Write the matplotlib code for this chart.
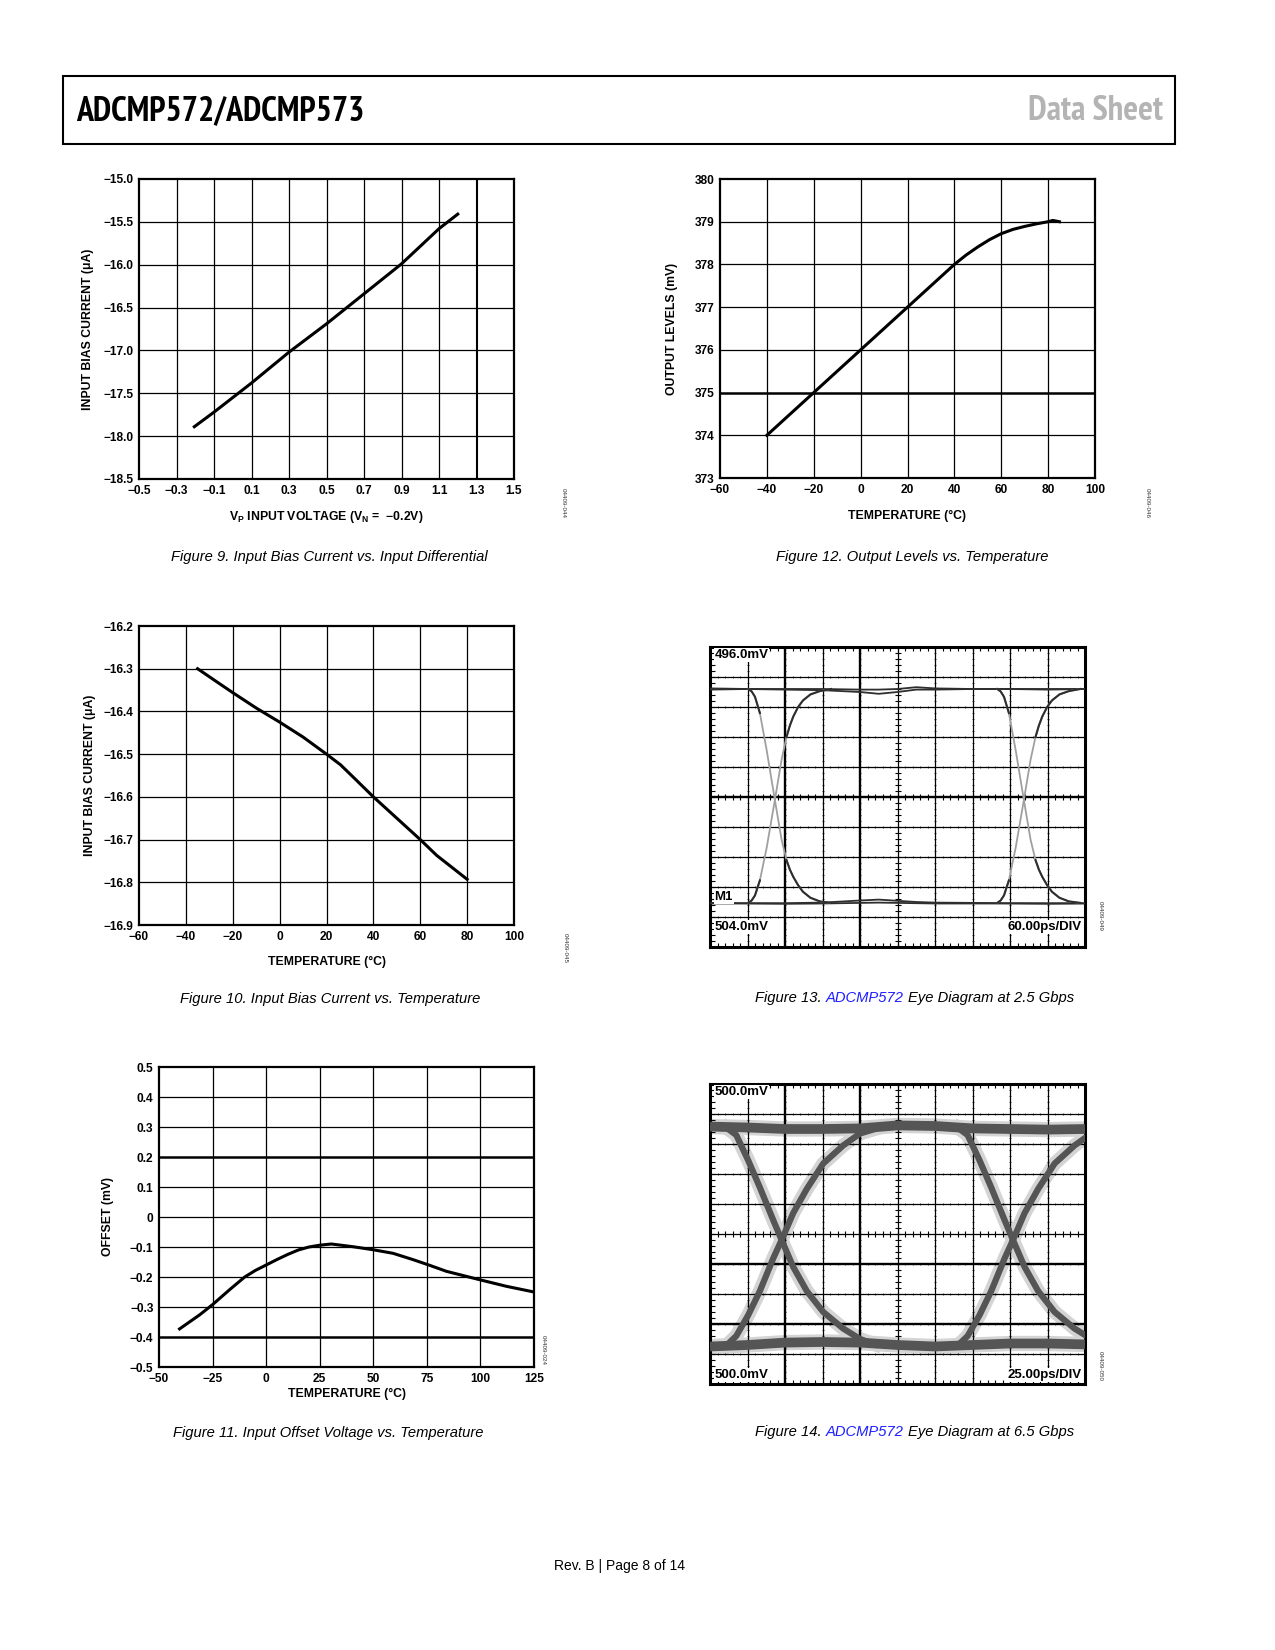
"""
ADCMP572/ADCMP573 data sheet, page 8: typical performance plots.
"""

import numpy as np
import matplotlib.pyplot as plt
from matplotlib import font_manager
from matplotlib.font_manager import FontProperties
from matplotlib.patches import Rectangle

W, H = 1275, 1650

SANS = 'Liberation Sans'
plt.rcParams['font.family'] = [SANS, 'DejaVu Sans']
plt.rcParams['mathtext.fontset'] = 'custom'
plt.rcParams['mathtext.rm'] = SANS
plt.rcParams['mathtext.bf'] = SANS + ':bold'
plt.rcParams['axes.unicode_minus'] = True

BLUE = '#1f1fff'

# ---- Figure 9: input bias current vs. V_P
fig9_v = [-0.205, -0.1, 0.1, 0.3, 0.5, 0.7, 0.9, 1.1, 1.2]
fig9_i = [-17.89, -17.72, -17.38, -17.02, -16.69, -16.34, -15.99, -15.58, -15.41]
fig9_xticks = [-0.5, -0.3, -0.1, 0.1, 0.3, 0.5, 0.7, 0.9, 1.1, 1.3, 1.5]
fig9_xlabels = ['−0.5', '−0.3', '−0.1', '0.1', '0.3', '0.5', '0.7', '0.9', '1.1', '1.3', '1.5']
fig9_yticks = [-18.5, -18.0, -17.5, -17.0, -16.5, -16.0, -15.5, -15.0]
fig9_ylabels = ['−18.5', '−18.0', '−17.5', '−17.0', '−16.5', '−16.0', '−15.5', '−15.0']

# ---- Figure 10: input bias current vs. temperature
fig10_t = [-35, -27, -20, -10, 0, 10, 20, 26, 32, 40, 50, 60, 67, 80]
fig10_i = [-16.300, -16.330, -16.356, -16.392, -16.425, -16.460, -16.500, -16.525,
           -16.557, -16.600, -16.650, -16.700, -16.737, -16.793]
temp_ticks = [-60, -40, -20, 0, 20, 40, 60, 80, 100]
temp_labels = ['−60', '−40', '−20', '0', '20', '40', '60', '80', '100']
fig10_yticks = [-16.9, -16.8, -16.7, -16.6, -16.5, -16.4, -16.3, -16.2]
fig10_ylabels = ['−16.9', '−16.8', '−16.7', '−16.6', '−16.5', '−16.4', '−16.3', '−16.2']

# ---- Figure 11: input offset voltage vs. temperature
fig11_t = [-40.4, -31, -25, -17, -10, -5, 0, 5, 10, 15, 20, 25, 30.4, 40.5, 49.8,
           59.2, 68.5, 76.3, 84.1, 99.6, 112.1, 125.0]
fig11_off = [-0.373, -0.326, -0.292, -0.242, -0.200, -0.178, -0.160, -0.142, -0.125,
             -0.110, -0.100, -0.094, -0.090, -0.099, -0.109, -0.121, -0.142, -0.161,
             -0.181, -0.209, -0.231, -0.250]
fig11_xticks = [-50, -25, 0, 25, 50, 75, 100, 125]
fig11_xlabels = ['−50', '−25', '0', '25', '50', '75', '100', '125']
fig11_yticks = [-0.5, -0.4, -0.3, -0.2, -0.1, 0.0, 0.1, 0.2, 0.3, 0.4, 0.5]
fig11_ylabels = ['−0.5', '−0.4', '−0.3', '−0.2', '−0.1', '0', '0.1', '0.2', '0.3', '0.4', '0.5']

# ---- Figure 12: output levels vs. temperature
fig12_t = [-40, -30, -20, -10, 0, 10, 20, 30, 40, 45, 50, 55, 60, 65, 70, 75, 80, 82, 84.8]
fig12_mv = [374.0, 374.5, 375.0, 375.5, 376.0, 376.5, 377.0, 377.5, 378.0, 378.22, 378.41,
            378.58, 378.72, 378.82, 378.89, 378.95, 379.0, 379.03, 379.0]
fig12_yticks = [373, 374, 375, 376, 377, 378, 379, 380]
fig12_ylabels = ['373', '374', '375', '376', '377', '378', '379', '380']

# ---- Figure 13: eye diagram 2.5 Gbps (screen divisions, 10 x 10)
eye13_cross = [1.73, 8.37]
eye13_dx = [-0.71, -0.62, -0.53, -0.40, -0.22, 0.0, 0.18, 0.31, 0.40, 0.49, 0.62, 0.75, 0.95, 1.20, 1.50]
eye13_fall = [8.60, 8.52, 8.34, 7.80, 6.57, 4.90, 3.57, 2.90, 2.58, 2.34, 2.06, 1.84, 1.64, 1.52, 1.47]
eye13_rise = [1.47, 1.55, 1.72, 2.22, 3.30, 4.90, 6.25, 7.00, 7.38, 7.68, 8.00, 8.22, 8.42, 8.53, 8.60]
eye13_lvl_x = [0, 1, 2, 3, 4, 4.5, 5, 5.5, 6, 7, 8, 9, 10]
eye13_top_a = [8.58, 8.60, 8.60, 8.60, 8.58, 8.58, 8.60, 8.66, 8.62, 8.60, 8.60, 8.60, 8.60]
eye13_top_b = [8.62, 8.60, 8.58, 8.56, 8.50, 8.44, 8.50, 8.58, 8.58, 8.60, 8.60, 8.58, 8.60]
eye13_bot_a = [1.47, 1.46, 1.46, 1.48, 1.55, 1.58, 1.54, 1.50, 1.48, 1.47, 1.46, 1.46, 1.46]
eye13_bot_b = [1.45, 1.45, 1.44, 1.45, 1.47, 1.48, 1.47, 1.46, 1.45, 1.45, 1.45, 1.44, 1.45]

# ---- Figure 14: eye diagram 6.5 Gbps
eye14_cross = [1.91, 8.08]
eye14_dx = [-1.46, -1.21, -0.89, -0.58, -0.22, 0.0, 0.31, 0.67, 1.11, 1.64, 2.09, 2.49]
eye14_fall = [8.53, 8.30, 7.45, 6.55, 5.45, 4.80, 3.90, 3.10, 2.40, 1.85, 1.50, 1.32]
eye14_rise = [1.30, 1.60, 2.30, 3.10, 4.20, 4.80, 5.70, 6.50, 7.35, 7.95, 8.35, 8.50]
eye14_lvl_x = [0, 1, 2, 3, 4, 5, 6, 7, 8, 9, 10]
eye14_top = [8.58, 8.55, 8.50, 8.50, 8.52, 8.62, 8.60, 8.52, 8.50, 8.48, 8.50]
eye14_bot = [1.25, 1.30, 1.38, 1.40, 1.38, 1.30, 1.25, 1.30, 1.35, 1.35, 1.32]


def narrow_font(bold, italic):
    """A narrow sans face if one is installed, else None."""
    found = []
    for f in font_manager.fontManager.ttflist:
        name = f.name
        if 'Mono' in name or 'Serif' in name:
            continue
        if not ('Narrow' in name or 'Condensed' in name):
            continue
        w = f.weight if isinstance(f.weight, int) else font_manager.weight_dict.get(f.weight, 400)
        if (w >= 600) != bold or (f.style in ('italic', 'oblique')) != italic:
            continue
        rank = 0 if 'Narrow' in name else (1 if 'DejaVu' not in name else 2)
        found.append((rank, f.fname))
    if not found:
        return None
    found.sort()
    if found[0][0] == 2:
        return None
    return found[0][1]


TITLE_FILE = narrow_font(True, False)


def title_props(size):
    if TITLE_FILE:
        return FontProperties(fname=TITLE_FILE, size=size)
    return FontProperties(family=SANS, weight='bold', size=size * 0.8)


def px_axes(fig, left, top, right, bottom):
    return fig.add_axes([left / W, 1 - bottom / H, (right - left) / W, (bottom - top) / H])


def fig_text(fig, x, y, s, **kw):
    return fig.text(x / W, 1 - y / H, s, **kw)


def line_chart(ax, x, y, xticks, xlabels, yticks, ylabels, xlabel, ylabel,
               xlab_pos, ylab_pos, heavy_x=(), heavy_y=()):
    ax.set_xlim(xticks[0], xticks[-1])
    ax.set_ylim(yticks[0], yticks[-1])
    ax.set_xticks(xticks)
    ax.set_xticklabels(xlabels)
    ax.set_yticks(yticks)
    ax.set_yticklabels(ylabels)
    for v in xticks[1:-1]:
        ax.axvline(v, color='black', lw=1.5 if v in heavy_x else 0.9, zorder=1)
    for v in yticks[1:-1]:
        ax.axhline(v, color='black', lw=1.8 if v in heavy_y else 0.9, zorder=1)
    ax.plot(x, y, color='black', lw=2.2, zorder=3)
    for s in ax.spines.values():
        s.set_linewidth(1.6)
    ax.tick_params(length=0, labelsize=8.6, pad=4)
    for lbl in ax.get_xticklabels() + ax.get_yticklabels():
        lbl.set_fontweight('bold')
    ax.set_xlabel(xlabel, fontsize=8.8, fontweight='bold', va='center')
    ax.set_ylabel(ylabel, fontsize=8.8, fontweight='bold', va='center')
    ax.xaxis.set_label_coords(0.5, xlab_pos)
    ax.yaxis.set_label_coords(ylab_pos, 0.5)


def eye_frame(ax, heavy_x, heavy_y):
    ax.set_xlim(0, 10)
    ax.set_ylim(0, 10)
    ax.set_xticks([])
    ax.set_yticks([])
    for v in range(1, 10):
        ax.axvline(v, color='black', lw=1.7 if v in heavy_x else 0.9, zorder=2)
        ax.axhline(v, color='black', lw=1.7 if v in heavy_y else 0.9, zorder=2)
    minor = np.arange(0.2, 10, 0.2)
    # small graticule dots along the grid lines
    for v in range(1, 10):
        ax.plot(minor, np.full_like(minor, v), '|', ms=1.6, mew=0.5, color='black', zorder=2)
        ax.plot(np.full_like(minor, v), minor, '_', ms=1.6, mew=0.5, color='black', zorder=2)
    # longer marks on the frame and the centre cross
    ax.plot(minor, np.full_like(minor, 10), '|', ms=6, mew=0.8, color='black', zorder=2)
    ax.plot(minor, np.full_like(minor, 0), '|', ms=6, mew=0.8, color='black', zorder=2)
    ax.plot(np.full_like(minor, 0), minor, '_', ms=7, mew=0.8, color='black', zorder=2)
    ax.plot(minor, np.full_like(minor, 5), '|', ms=4, mew=0.8, color='black', zorder=2)
    ax.plot(np.full_like(minor, 5), minor, '_', ms=4, mew=0.8, color='black', zorder=2)
    for s in ax.spines.values():
        s.set_linewidth(2.2)


def scope_label(ax, x, y, s, ha='left'):
    ax.text(x, y, s, ha=ha, va='center', fontsize=9.5, fontweight='bold',
            zorder=5, bbox=dict(facecolor='white', edgecolor='none', pad=0.5))


def caption(fig, x, y, parts):
    """Caption made of (text, colour) pieces, placed left to right."""
    renderer = fig.canvas.get_renderer()
    for s, col in parts:
        t = fig_text(fig, x, y, s, fontsize=10.6, style='italic',
                     color=col, va='baseline', ha='left')
        x += t.get_window_extent(renderer).width + 4


def code_tag(fig, x, y, s):
    fig_text(fig, x, y, s, fontsize=4.5, rotation=270, ha='center', va='center',
             color='#333333')


fig = plt.figure(figsize=(12.75, 16.5), dpi=100)

# page header
fig.patches.append(Rectangle((63 / W, 1 - 144 / H), (1175 - 63) / W, (144 - 76) / H,
                             transform=fig.transFigure, fill=False, lw=1.5,
                             edgecolor='black'))
fig_text(fig, 76, 111, 'ADCMP572/ADCMP573', fontproperties=title_props(24.5),
         va='center', ha='left')
fig_text(fig, 1163, 111, 'Data Sheet', fontproperties=title_props(25),
         va='center', ha='right', color='#b4b4b4')

# Figure 9
ax9 = px_axes(fig, 139, 179, 514, 479)
line_chart(ax9, fig9_v, fig9_i, fig9_xticks, fig9_xlabels, fig9_yticks, fig9_ylabels,
           r'V$_\mathbf{P}$ INPUT VOLTAGE (V$_\mathbf{N}$ =  −0.2V)',
           'INPUT BIAS CURRENT (μA)', -0.127, -0.135, heavy_x=(1.3,))
code_tag(fig, 563, 503, '04409-044')

# Figure 12
ax12 = px_axes(fig, 720, 179, 1095, 478)
line_chart(ax12, fig12_t, fig12_mv, temp_ticks, temp_labels, fig12_yticks, fig12_ylabels,
           'TEMPERATURE (°C)', 'OUTPUT LEVELS (mV)', -0.127, -0.128, heavy_y=(375,))
code_tag(fig, 1147, 503, '04409-046')

# Figure 10
ax10 = px_axes(fig, 139, 626, 514, 925)
line_chart(ax10, fig10_t, fig10_i, temp_ticks, temp_labels, fig10_yticks, fig10_ylabels,
           'TEMPERATURE (°C)', 'INPUT BIAS CURRENT (μA)', -0.123, -0.13)
code_tag(fig, 565, 948, '04409-045')

# Figure 11
ax11 = px_axes(fig, 159, 1067, 534, 1367)
line_chart(ax11, fig11_t, fig11_off, fig11_xticks, fig11_xlabels, fig11_yticks,
           fig11_ylabels, 'TEMPERATURE (°C)', 'OFFSET (mV)', -0.09, -0.136,
           heavy_y=(0.2, -0.4))
code_tag(fig, 543, 1350, '04409-024')

# Figure 13: eye diagram 2.5 Gbps
ax13 = px_axes(fig, 710, 647, 1085, 947)
eye_frame(ax13, heavy_x=(2, 4), heavy_y=(5,))
for xs, ys in [(eye13_lvl_x, eye13_top_a), (eye13_lvl_x, eye13_top_b),
               (eye13_lvl_x, eye13_bot_a), (eye13_lvl_x, eye13_bot_b)]:
    ax13.plot(xs, ys, color='#2e2e2e', lw=1.3, zorder=3)
for c in eye13_cross:
    ex = c + np.array(eye13_dx)
    for ey in (eye13_fall, eye13_rise):
        ax13.plot(ex, ey, color='#a0a0a0', lw=1.3, zorder=3)
        ax13.plot(ex[:4], ey[:4], color='#2e2e2e', lw=1.5, zorder=3)
        ax13.plot(ex[7:], ey[7:], color='#2e2e2e', lw=1.5, zorder=3)
scope_label(ax13, 0.12, 9.73, '496.0mV')
scope_label(ax13, 0.12, 0.67, '504.0mV')
scope_label(ax13, 9.9, 0.67, '60.00ps/DIV', ha='right')
scope_label(ax13, 0.12, 1.65, 'M1')
code_tag(fig, 1100, 916, '04409-049')

# Figure 14: eye diagram 6.5 Gbps
ax14 = px_axes(fig, 710, 1084, 1085, 1384)
eye_frame(ax14, heavy_x=(2, 4), heavy_y=(2, 4))
halo = dict(color='#d4d4d4', zorder=1)
core = dict(color='#555555', zorder=3)
ax14.plot(eye14_lvl_x, eye14_top, lw=11, solid_capstyle='butt', **halo)
ax14.plot(eye14_lvl_x, eye14_bot, lw=11, solid_capstyle='butt', **halo)
for c in eye14_cross:
    ex = c + np.array(eye14_dx)
    for ey in (eye14_fall, eye14_rise):
        ax14.plot(ex, ey, lw=10, **halo)
        ax14.plot(ex, ey, lw=4.5, **core)
ax14.plot(eye14_lvl_x, eye14_top, lw=7, solid_capstyle='butt', **core)
ax14.plot(eye14_lvl_x, eye14_bot, lw=7, solid_capstyle='butt', **core)
scope_label(ax14, 0.12, 9.73, '500.0mV')
scope_label(ax14, 0.12, 0.3, '500.0mV')
scope_label(ax14, 9.9, 0.3, '25.00ps/DIV', ha='right')
code_tag(fig, 1100, 1366, '04409-050')

# captions
caption(fig, 171, 561, [('Figure 9. Input Bias Current vs. Input Differential', 'black')])
caption(fig, 776, 561, [('Figure 12. Output Levels vs. Temperature', 'black')])
caption(fig, 180, 1003, [('Figure 10. Input Bias Current vs. Temperature', 'black')])
caption(fig, 755, 1002, [('Figure 13.', 'black'), ('ADCMP572', BLUE),
                         ('Eye Diagram at 2.5 Gbps', 'black')])
caption(fig, 173, 1437, [('Figure 11. Input Offset Voltage vs. Temperature', 'black')])
caption(fig, 755, 1436, [('Figure 14.', 'black'), ('ADCMP572', BLUE),
                         ('Eye Diagram at 6.5 Gbps', 'black')])

# footer
fig_text(fig, 619, 1566, 'Rev. B | Page 8 of 14', fontsize=10, ha='center', va='center')

fig.savefig('out.png', dpi=100)
plt.close(fig)
